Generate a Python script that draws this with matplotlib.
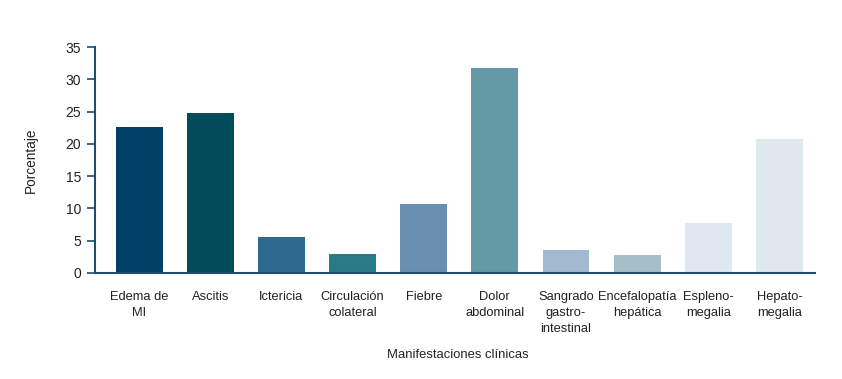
import matplotlib.pyplot as plt

categories = ["Edema de\nMI", "Ascitis", "Ictericia", "Circulación\ncolateral", "Fiebre",
              "Dolor\nabdominal", "Sangrado\ngastro-\nintestinal", "Encefalopatía\nhepática",
              "Espleno-\nmegalia", "Hepato-\nmegalia"]
values = [22.6, 24.8, 5.6, 2.9, 10.7, 31.7, 3.6, 2.8, 7.8, 20.8]
colors = ["#003f66", "#014b5a", "#2e6a8f", "#2a7a87", "#6a8eb0",
          "#6699a6", "#a3b9cf", "#a5bec7", "#dfe8f0", "#dfe9ed"]
yticks = [0, 5, 10, 15, 20, 25, 30, 35]

plt.rcParams['font.family'] = ['Liberation Sans', 'DejaVu Sans']

fig = plt.figure(figsize=(8.42, 3.79), dpi=100)
ax = fig.add_axes([95/842, 1-273/379, (815-95)/842, (273-47)/379])

x = list(range(len(categories)))
ax.bar(x, values, width=0.66, color=colors)

ax.set_xlim(-0.62, 9.5)
ax.set_ylim(0, 35)
ax.set_yticks(yticks)
ax.set_xticks(x)
ax.set_xticklabels(categories, fontsize=9.3, color="#222222", linespacing=1.45)
ax.tick_params(axis='x', length=0, pad=13)
ax.tick_params(axis='y', length=6, width=1.2, color="#1f4e6e", labelsize=10, labelcolor="#222222", pad=4)

for s in ['top', 'right']:
    ax.spines[s].set_visible(False)
for s in ['left', 'bottom']:
    ax.spines[s].set_color("#1f4e6e")
    ax.spines[s].set_linewidth(1.5)

ax.set_ylabel("Porcentaje", fontsize=9.8, color="#222222", labelpad=20)
fig.text(458/842, 1-355/379, "Manifestaciones clínicas", fontsize=9.4, color="#222222",
         ha='center', va='center')

fig.savefig("out.png", dpi=100)
